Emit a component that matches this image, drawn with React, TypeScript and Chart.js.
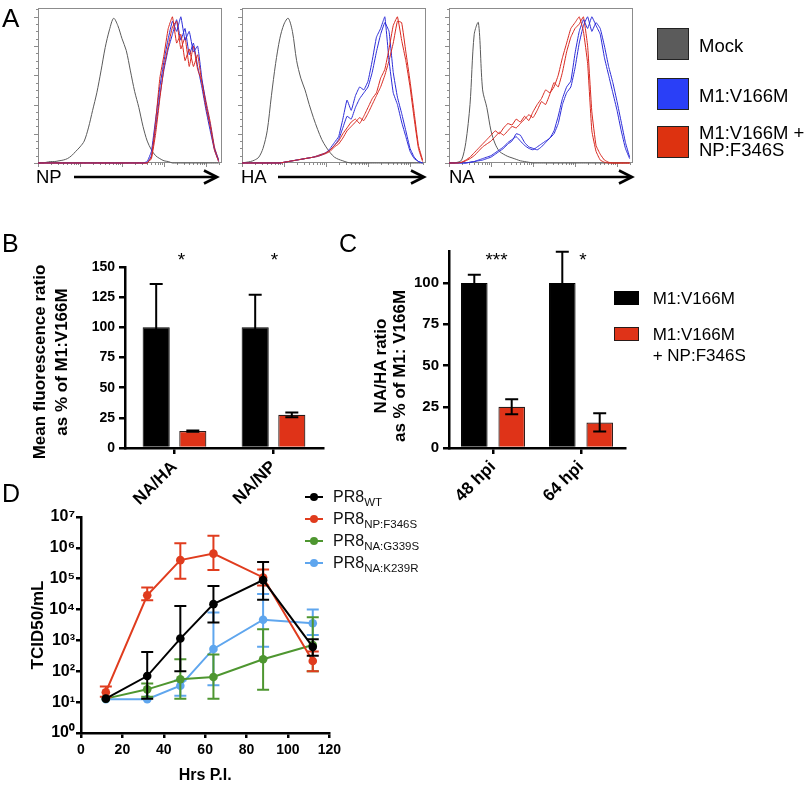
import React, { useEffect, useRef } from 'react';
import { Chart, registerables } from 'chart.js';

Chart.register(...registerables);

const FONT = '"Liberation Sans", Arial, Helvetica, sans-serif';
Chart.defaults.font.family = FONT;
Chart.defaults.color = '#000';

// ---------------- Panel A : flow histograms (x = log10 fluorescence, y = % of max) ----------------
const HIST_BINS = [0, 0.1, 0.2, 0.3, 0.4, 0.5, 0.6, 0.7, 0.8, 0.9, 1, 1.1, 1.2, 1.3, 1.4, 1.5, 1.6, 1.7, 1.8, 1.9, 2, 2.1, 2.2, 2.3, 2.4, 2.5, 2.6, 2.7, 2.8, 2.9, 3, 3.1, 3.2, 3.3, 3.4, 3.5, 3.6, 3.7, 3.8, 3.9, 4, 4.1, 4.2, 4.3];

const NP_MOCK = [0, 0, 0.5, 1, 1, 1.5, 2, 3, 5, 8, 11, 15, 24, 36, 48, 63, 79, 91, 99, 94, 85, 77, 63, 49, 38, 25, 15, 9, 5, 3, 1.5, 1, 0, 0, 0, 0, 0, 0, 0, 0, 0, 0, 0, 0];
const NP_M1_A = [0, 0, 0, 0, 0, 0, 0, 0, 0, 0, 0, 0, 0, 0, 0, 0, 0, 0, 0, 0, 0, 0, 0, 0, 0, 0, 1, 8, 30, 52, 70, 85, 97, 90, 100, 84, 90, 76, 80, 58, 40, 26, 10, 2];
const NP_M1_B = [0, 0, 0, 0, 0, 0, 0, 0, 0, 0, 0, 0, 0, 0, 0, 0, 0, 0, 0, 0, 0, 0, 0, 0, 0, 0, 0, 5, 24, 46, 64, 78, 88, 98, 84, 92, 74, 82, 66, 52, 36, 22, 9, 1];
const NP_NP_A = [0, 0, 0, 0, 0, 0, 0, 0, 0, 0, 0, 0, 0, 0, 0, 0, 0, 0, 0, 0, 0, 0, 0, 0, 0, 0, 0, 4, 28, 58, 74, 92, 100, 82, 88, 70, 78, 66, 74, 55, 38, 25, 9, 1];
const NP_NP_B = [0, 0, 0, 0, 0, 0, 0, 0, 0, 0, 0, 0, 0, 0, 0, 0, 0, 0, 0, 0, 0, 0, 0, 0, 0, 0, 0, 3, 20, 44, 66, 80, 93, 97, 78, 86, 66, 80, 64, 56, 42, 28, 11, 2];

const HA_MOCK = [0, 0.5, 1, 2, 4, 10, 22, 46, 68, 85, 95, 99, 90, 70, 58, 50, 40, 31, 23, 16, 11, 7, 4, 2.5, 1.5, 0.5, 0, 0, 0, 0, 0, 0, 0, 0, 0, 0, 0, 0, 0, 0, 0, 0, 0, 0];
const HA_M1_A = [0, 0, 0, 0, 0, 0, 0, 0, 0, 0, 0.5, 1, 1.5, 2, 2.5, 3, 3.5, 4, 5, 6, 7, 10, 14, 18, 30, 43, 36, 46, 52, 50, 56, 70, 86, 92, 100, 70, 48, 40, 28, 18, 8, 3, 1, 0];
const HA_M1_B = [0, 0, 0, 0, 0, 0, 0, 0, 0, 0, 0.5, 1, 1.5, 2, 2.5, 3, 3.5, 4, 4.5, 5.5, 7, 9, 12, 16, 24, 32, 30, 38, 44, 48, 52, 62, 76, 88, 96, 90, 62, 45, 34, 22, 10, 4, 1, 0];
const HA_NP_A = [0, 0, 0, 0, 0, 0, 0, 0, 0, 0, 0.5, 1, 1.5, 2, 2.5, 3, 3.5, 4, 5, 6, 7, 9, 12, 15, 20, 24, 28, 30, 27, 32, 38, 44, 48, 58, 64, 78, 94, 100, 84, 70, 52, 30, 10, 1];
const HA_NP_B = [0, 0, 0, 0, 0, 0, 0, 0, 0, 0, 0.5, 1, 1.5, 2, 2.5, 3, 3.5, 4, 4.5, 5.5, 6.5, 8, 11, 13, 17, 22, 25, 28, 31, 29, 34, 40, 46, 52, 60, 70, 82, 97, 96, 76, 56, 34, 12, 2];

const NA_MOCK = [0, 0, 0.5, 2, 14, 40, 88, 96, 50, 38, 22, 13, 8, 6, 4.5, 3.5, 2.5, 1.5, 1, 0.5, 0, 0, 0, 0, 0, 0, 0, 0, 0, 0, 0, 0, 0, 0, 0, 0, 0, 0, 0, 0, 0, 0, 0, 0];
const NA_M1_A = [0, 0, 0, 0, 0, 0.5, 1, 2, 3, 4, 5, 7, 9, 11, 14, 16, 18, 15, 12, 10, 9, 11, 13, 15, 17, 22, 32, 44, 52, 56, 75, 90, 98, 92, 100, 94, 88, 72, 60, 48, 36, 22, 10, 3];
const NA_M1_B = [0, 0, 0, 0, 0, 0.5, 1, 1.5, 2, 3, 4, 6, 8, 10, 13, 15, 20, 19, 14, 11, 10, 9, 11, 14, 17, 20, 27, 40, 48, 52, 65, 82, 94, 100, 90, 96, 92, 80, 66, 55, 42, 28, 14, 4];
const NA_NP_A = [0, 0, 0, 0.5, 2, 4, 7, 10, 13, 16, 19, 22, 20, 24, 27, 26, 30, 28, 32, 29, 35, 40, 44, 50, 48, 52, 60, 72, 82, 92, 96, 100, 90, 68, 22, 8, 2, 0.5, 0, 0, 0, 0, 0, 0];
const NA_NP_B = [0, 0, 0, 0.5, 1.5, 3, 5, 8, 11, 13, 15, 18, 21, 19, 22, 25, 24, 27, 30, 33, 31, 36, 42, 40, 47, 55, 52, 62, 76, 86, 92, 95, 100, 80, 35, 12, 6, 2, 0.5, 0, 0, 0, 0, 0];

const HIST_AXIS_LABELS = ['NP', 'HA', 'NA'];
const LEGEND_A_LABELS = [['Mock'], ['M1:V166M'], ['M1:V166M +', 'NP:F346S']];

// ---------------- Panel B ----------------
const B_CATEGORIES = ['NA/HA', 'NA/NP'];
const B_M1 = [100, 100];
const B_M1_ERR = [36, 27];
const B_NP = [14, 27.5];
const B_NP_ERR = [0.6, 2];
const B_STARS = ['*', '*'];
const B_TITLE = ['Mean fluorescence ratio', 'as % of M1:V166M'];

// ---------------- Panel C ----------------
const C_CATEGORIES = ['48 hpi', '64 hpi'];
const C_M1 = [100, 100];
const C_M1_ERR = [5, 19];
const C_NP = [25, 15.5];
const C_NP_ERR = [4.5, 5.5];
const C_STARS = ['***', '*'];
const C_TITLE = ['NA/HA ratio', 'as % of  M1: V166M'];
const C_LEGEND = [['M1:V166M'], ['M1:V166M', '+ NP:F346S']];

// ---------------- Panel D ----------------
const D_HOURS = [12, 32, 48, 64, 88, 112];
const D_WT = [13, 70, 1150, 15000, 90000, 620];
const D_WT_LO = [13, 13, 100, 3800, 21000, 320];
const D_WT_HI = [13, 420, 13000, 58000, 350000, 1100];
const D_NP = [21, 29000, 400000, 650000, 110000, 215];
const D_NP_LO = [15, 20000, 100000, 190000, 60000, 100];
const D_NP_HI = [32, 52000, 1400000, 2450000, 200000, 440];
const D_G339S = [13, 26, 55, 65, 245, 710];
const D_G339S_LO = [13, 15, 13, 13, 25, 100];
const D_G339S_HI = [13, 40, 245, 350, 2300, 5600];
const D_K239R = [12.5, 12.5, 34, 530, 4700, 3600];
const D_K239R_LO = [12.5, 12.5, 16, 35, 620, 1500];
const D_K239R_HI = [12.5, 12.5, 50, 8000, 32000, 10000];
const D_DECADES = [1, 10, 100, 1000, 10000, 100000, 1000000, 10000000];
const D_TICK_LABELS = ['10⁰', '10¹', '10²', '10³', '10⁴', '10⁵', '10⁶', '10⁷'];
const D_SUBSCRIPTS = ['WT', 'NP:F346S', 'NA:G339S', 'NA:K239R'];

// ---------------- styles ----------------
const GRAY_LINE = '#5a5a5a';
const BLUE_LINE = '#2b2bd8';
const RED_LINE = '#d8281f';
const BAR_RED = '#df3318';
const D_COLORS = ['#000000', '#e03c1e', '#4e9630', '#5fa6ee'];
const LEGEND_A_COLORS = ['#5b5b5b', '#2a3ff7', '#dd3210'];

const errorBarPlugin = {
  id: 'errorBars',
  afterDatasetDraw(chart: any, args: any) {
    const ds: any = chart.data.datasets[args.index];
    if (!ds.errLo || !ds.errHi) return;
    const meta = args.meta;
    const ys = chart.scales[meta.yAxisID];
    const ctx = chart.ctx;
    const half = (ds.capWidth || 12) / 2;
    ctx.save();
    ctx.strokeStyle = ds.errColor || '#000';
    ctx.lineWidth = ds.errWidth || 2;
    meta.data.forEach((el: any, i: number) => {
      const lo = ds.errLo[i];
      const hi = ds.errHi[i];
      if (lo == null || hi == null || lo === hi) return;
      const x = el.x;
      const y0 = ys.getPixelForValue(lo);
      const y1 = ys.getPixelForValue(hi);
      ctx.beginPath();
      ctx.moveTo(x, y0);
      ctx.lineTo(x, y1);
      ctx.moveTo(x - half, y1);
      ctx.lineTo(x + half, y1);
      ctx.moveTo(x - half, y0);
      ctx.lineTo(x + half, y0);
      ctx.stroke();
    });
    ctx.restore();
  },
};

const histFramePlugin = {
  id: 'histFrame',
  beforeDatasetsDraw(chart: any) {
    const { ctx, chartArea: a } = chart;
    const xs = chart.scales.x;
    const ys = chart.scales.y;
    ctx.save();
    ctx.strokeStyle = '#8c8c8c';
    ctx.lineWidth = 1;
    const l = Math.round(a.left), t = Math.round(a.top), r = Math.round(a.right), b = Math.round(a.bottom);
    ctx.strokeRect(l + 0.5, t + 0.5, r - l - 1, b - t - 1);
    ctx.beginPath();
    for (let v = 0; v <= 105; v += 5) {
      const y = Math.round(ys.getPixelForValue(v)) + 0.5;
      const len = v % 20 === 0 ? 4 : 2;
      ctx.moveTo(l - len, y);
      ctx.lineTo(l, y);
    }
    for (let d = 0; d < 5; d++) {
      for (let m = 1; m <= 9; m++) {
        const u = d + Math.log10(m);
        if (u > xs.max) continue;
        const x = Math.round(xs.getPixelForValue(u)) + 0.5;
        const len = m === 1 ? 4 : 2;
        ctx.moveTo(x, b);
        ctx.lineTo(x, b + len);
      }
    }
    ctx.stroke();
    ctx.restore();
  },
};

function histConfig(mock: number[], m1a: number[], m1b: number[], npa: number[], npb: number[]) {
  const mk = (vals: number[], color: string, tension: number) => ({
    data: vals.map((v, i) => ({ x: HIST_BINS[i], y: v })),
    borderColor: color,
    borderWidth: 1,
    pointRadius: 0,
    tension,
    fill: false,
    clip: 8,
  });
  return {
    type: 'line',
    data: {
      datasets: [
        mk(npa, RED_LINE, 0.1),
        mk(m1a, BLUE_LINE, 0.1),
        mk(npb, RED_LINE, 0.1),
        mk(m1b, BLUE_LINE, 0.1),
        mk(mock, GRAY_LINE, 0.3),
      ],
    },
    options: {
      animation: false,
      responsive: false,
      events: [],
      layout: { padding: 8 },
      plugins: { legend: { display: false }, tooltip: { enabled: false } },
      scales: {
        x: { type: 'linear', display: false, min: 0, max: 4.38 },
        y: { display: false, min: 0, max: 106 },
      },
    },
    plugins: [histFramePlugin],
  };
}

function barConfig(p: any) {
  return {
    type: 'bar',
    data: {
      labels: p.labels,
      datasets: [
        {
          label: 'M1:V166M',
          data: p.m1,
          backgroundColor: '#000',
          borderColor: '#000',
          borderWidth: 1,
          categoryPercentage: p.catPct,
          barPercentage: p.barPct,
          errLo: p.m1.map((v: number, i: number) => v - p.m1Err[i]),
          errHi: p.m1.map((v: number, i: number) => v + p.m1Err[i]),
          errColor: '#000',
          errWidth: 2,
          capWidth: 13,
        },
        {
          label: 'M1:V166M + NP:F346S',
          data: p.np,
          backgroundColor: BAR_RED,
          borderColor: '#2a1a18',
          borderWidth: 1.2,
          categoryPercentage: p.catPct,
          barPercentage: p.barPct,
          errLo: p.np.map((v: number, i: number) => v - p.npErr[i]),
          errHi: p.np.map((v: number, i: number) => v + p.npErr[i]),
          errColor: '#000',
          errWidth: 2,
          capWidth: 13,
        },
      ],
    },
    options: {
      animation: false,
      responsive: false,
      events: [],
      layout: { padding: p.padding },
      plugins: { legend: { display: false }, tooltip: { enabled: false } },
      scales: {
        x: {
          z: 1,
          grid: { drawOnChartArea: false, drawTicks: true, tickLength: 6, lineWidth: 2.5, color: '#000', offset: false },
          border: { display: true, width: 2.5, color: '#000' },
          ticks: { font: { size: 17, weight: 'bold' }, color: '#000', minRotation: 45, maxRotation: 45, padding: 3, autoSkip: false },
          afterFit: (s: any) => { s.height = p.xHeight; },
        },
        y: {
          min: 0,
          max: p.max,
          grid: { drawOnChartArea: false, drawTicks: true, tickLength: 6, lineWidth: 2.5, color: '#000' },
          border: { display: true, width: 2.5, color: '#000' },
          ticks: { stepSize: 25, includeBounds: false, font: { size: p.tickSize, weight: 'bold' }, color: '#000', padding: 4 },
          afterFit: (s: any) => { s.width = p.yWidth; },
        },
      },
    },
    plugins: [errorBarPlugin],
  };
}

function dConfig() {
  const series = [
    { label: 'PR8 WT', v: D_WT, lo: D_WT_LO, hi: D_WT_HI, c: D_COLORS[0] },
    { label: 'PR8 NP:F346S', v: D_NP, lo: D_NP_LO, hi: D_NP_HI, c: D_COLORS[1] },
    { label: 'PR8 NA:G339S', v: D_G339S, lo: D_G339S_LO, hi: D_G339S_HI, c: D_COLORS[2] },
    { label: 'PR8 NA:K239R', v: D_K239R, lo: D_K239R_LO, hi: D_K239R_HI, c: D_COLORS[3] },
  ];
  return {
    type: 'line',
    data: {
      datasets: series.map((s) => ({
        label: s.label,
        data: s.v.map((y, i) => ({ x: D_HOURS[i], y })),
        borderColor: s.c,
        backgroundColor: s.c,
        borderWidth: 2,
        pointRadius: 4.3,
        pointBorderWidth: 0,
        tension: 0,
        fill: false,
        clip: false,
        errLo: s.lo,
        errHi: s.hi,
        errColor: s.c,
        errWidth: 2,
        capWidth: 12,
      })),
    },
    options: {
      animation: false,
      responsive: false,
      events: [],
      layout: { padding: { left: 0, top: 37, right: 12, bottom: 0 } },
      plugins: { legend: { display: false }, tooltip: { enabled: false } },
      scales: {
        x: {
          type: 'linear',
          min: 0,
          max: 120,
          grid: { drawOnChartArea: false, drawTicks: true, tickLength: 5, lineWidth: 2.5, color: '#000' },
          border: { display: true, width: 2.5, color: '#000' },
          ticks: { stepSize: 20, font: { size: 14, weight: 'bold' }, color: '#000', padding: 4, minRotation: 0, maxRotation: 0 },
          title: { display: true, text: 'Hrs P.I.', color: '#000', font: { size: 16, weight: 'bold' }, padding: { top: 0, bottom: 4 } },
          afterFit: (s: any) => { s.height = 56; },
        },
        y: {
          type: 'logarithmic',
          min: 1,
          max: 10000000,
          afterBuildTicks: (s: any) => { s.ticks = D_DECADES.map((v) => ({ value: v })); },
          grid: { drawOnChartArea: false, drawTicks: true, tickLength: 5, lineWidth: 2.5, color: '#000' },
          border: { display: true, width: 2.5, color: '#000' },
          ticks: {
            autoSkip: false,
            font: { size: 16, weight: 'bold' },
            color: '#000',
            padding: 1,
            callback: (v: number) => D_TICK_LABELS[Math.round(Math.log10(v))],
          },
          afterFit: (s: any) => { s.width = 81; },
        },
      },
    },
    plugins: [errorBarPlugin],
  };
}

function ChartCanvas({ left, top, width, height, make }: any) {
  const ref = useRef<HTMLCanvasElement>(null);
  useEffect(() => {
    const chart = new Chart(ref.current as HTMLCanvasElement, make());
    return () => chart.destroy();
  }, []);
  return (
    <canvas
      ref={ref}
      width={width}
      height={height}
      style={{ position: 'absolute', left, top, width, height }}
    />
  );
}

function Txt({ x, base, size, text, bold, anchor = 'start', color = '#000', children }: any) {
  const tx = anchor === 'middle' ? '-50%' : anchor === 'end' ? '-100%' : '0';
  return (
    <div
      style={{
        position: 'absolute',
        left: x,
        top: base - 0.8465 * size,
        fontSize: size,
        lineHeight: `${size}px`,
        fontFamily: FONT,
        fontWeight: bold ? 700 : 400,
        color,
        whiteSpace: 'nowrap',
        transform: `translateX(${tx})`,
      }}
    >
      {text}
      {children}
    </div>
  );
}

function VText({ cx, cy, size, lh, lines }: any) {
  return (
    <div
      style={{
        position: 'absolute',
        left: cx,
        top: cy,
        transform: 'translate(-50%, -50%) rotate(-90deg)',
        fontSize: size,
        lineHeight: `${lh}px`,
        fontWeight: 700,
        fontFamily: FONT,
        whiteSpace: 'nowrap',
        textAlign: 'center',
        color: '#000',
      }}
    >
      {lines.map((l: string, i: number) => (
        <div key={i}>{l}</div>
      ))}
    </div>
  );
}

const HIST_TOP = 8;
const HIST_H = 155;
const ARROW_Y = 177;
const HIST_BOXES = [
  { left: 38, mock: NP_MOCK, a: NP_M1_A, b: NP_M1_B, c: NP_NP_A, d: NP_NP_B, labelX: 36, arrowFrom: 74, arrowTo: 217 },
  { left: 242, mock: HA_MOCK, a: HA_M1_A, b: HA_M1_B, c: HA_NP_A, d: HA_NP_B, labelX: 241, arrowFrom: 278, arrowTo: 424 },
  { left: 449, mock: NA_MOCK, a: NA_M1_A, b: NA_M1_B, c: NA_NP_A, d: NA_NP_B, labelX: 449, arrowFrom: 489, arrowTo: 632 },
];

export default function App() {
  const legendATops = [28, 78, 126];
  const legendABases = [[52.6], [102.6], [140, 156.7]];
  const dLegendY = [497, 519, 541, 563];
  return (
    <div style={{ position: 'fixed', left: 0, top: 0, width: 807, height: 789, background: '#fff', overflow: 'hidden', fontFamily: FONT }}>
      {/* Panel A */}
      {HIST_BOXES.map((h, i) => (
        <ChartCanvas
          key={'h' + i}
          left={h.left - 8}
          top={HIST_TOP - 8}
          width={200}
          height={HIST_H + 16}
          make={() => histConfig(h.mock, h.a, h.b, h.c, h.d)}
        />
      ))}
      <svg width={807} height={789} style={{ position: 'absolute', left: 0, top: 0, pointerEvents: 'none' }}>
        {HIST_BOXES.map((h, i) => (
          <g key={'ar' + i} stroke="#000" strokeWidth={2.6} fill="none">
            <line x1={h.arrowFrom} y1={ARROW_Y} x2={h.arrowTo - 1} y2={ARROW_Y} />
            <polyline points={`${h.arrowTo - 13},${ARROW_Y - 6.5} ${h.arrowTo},${ARROW_Y} ${h.arrowTo - 13},${ARROW_Y + 6.5}`} strokeLinejoin="miter" />
          </g>
        ))}
      </svg>
      {HIST_BOXES.map((h, i) => (
        <Txt key={'hl' + i} x={h.labelX} base={ARROW_Y + 6.7} size={18.5} text={HIST_AXIS_LABELS[i]} />
      ))}
      {LEGEND_A_LABELS.map((lines, i) => (
        <React.Fragment key={'la' + i}>
          <div
            style={{
              position: 'absolute',
              left: 657,
              top: legendATops[i],
              width: 32,
              height: 32,
              boxSizing: 'border-box',
              border: '1px solid #222',
              background: LEGEND_A_COLORS[i],
            }}
          />
          {lines.map((t, j) => (
            <Txt key={j} x={699} base={legendABases[i][j]} size={18.5} text={t} />
          ))}
        </React.Fragment>
      ))}
      <Txt x={2} base={27} size={26} text="A" />

      {/* Panel B */}
      <ChartCanvas
        left={0}
        top={230}
        width={330}
        height={298}
        make={() =>
          barConfig({
            labels: B_CATEGORIES,
            m1: B_M1,
            m1Err: B_M1_ERR,
            np: B_NP,
            npErr: B_NP_ERR,
            max: 150,
            tickSize: 14,
            padding: { left: 0, top: 37, right: 7, bottom: 0 },
            yWidth: 125,
            xHeight: 80,
            catPct: 0.74,
            barPct: 0.74,
          })
        }
      />
      <VText cx={51} cy={362} size={17} lh={22} lines={B_TITLE} />
      <Txt x={2} base={252} size={25} text="B" />
      <Txt x={181.5} base={266} size={19} text={B_STARS[0]} anchor="middle" />
      <Txt x={274.5} base={266} size={19} text={B_STARS[1]} anchor="middle" />

      {/* Panel C */}
      <ChartCanvas
        left={330}
        top={230}
        width={310}
        height={298}
        make={() =>
          barConfig({
            labels: C_CATEGORIES,
            m1: C_M1,
            m1Err: C_M1_ERR,
            np: C_NP,
            npErr: C_NP_ERR,
            max: 119,
            tickSize: 15,
            padding: { left: 0, top: 21.7, right: 15, bottom: 0 },
            yWidth: 119,
            xHeight: 80,
            catPct: 0.85,
            barPct: 0.71,
          })
        }
      />
      <VText cx={390} cy={366} size={17} lh={19} lines={C_TITLE} />
      <Txt x={339} base={252} size={25} text="C" />
      <Txt x={496.5} base={266} size={19} text={C_STARS[0]} anchor="middle" />
      <Txt x={583} base={266} size={19} text={C_STARS[1]} anchor="middle" />
      <div style={{ position: 'absolute', left: 614, top: 291, width: 25, height: 14, background: '#000' }} />
      <div style={{ position: 'absolute', left: 614, top: 327, width: 25, height: 14, background: BAR_RED, boxSizing: 'border-box', border: '1px solid #2a1a18' }} />
      <Txt x={652.7} base={304} size={17} text={C_LEGEND[0][0]} />
      <Txt x={652.7} base={340} size={17} text={C_LEGEND[1][0]} />
      <Txt x={652.7} base={361} size={17} text={C_LEGEND[1][1]} />

      {/* Panel D */}
      <ChartCanvas left={0} top={480} width={345} height={309} make={dConfig} />
      <VText cx={38} cy={625} size={17} lh={20} lines={['TCID50/mL']} />
      <Txt x={2} base={502} size={25} text="D" />
      {D_SUBSCRIPTS.map((s, i) => (
        <React.Fragment key={'dl' + i}>
          <div style={{ position: 'absolute', left: 305, top: dLegendY[i] - 1, width: 18, height: 2, background: D_COLORS[i] }} />
          <div style={{ position: 'absolute', left: 310, top: dLegendY[i] - 4, width: 8, height: 8, borderRadius: 4, background: D_COLORS[i] }} />
          <Txt x={333} base={dLegendY[i] + 5.7} size={16} text="PR8" color="#111">
            <span style={{ fontSize: 11.5, position: 'relative', top: 3.5 }}>{s}</span>
          </Txt>
        </React.Fragment>
      ))}
    </div>
  );
}
